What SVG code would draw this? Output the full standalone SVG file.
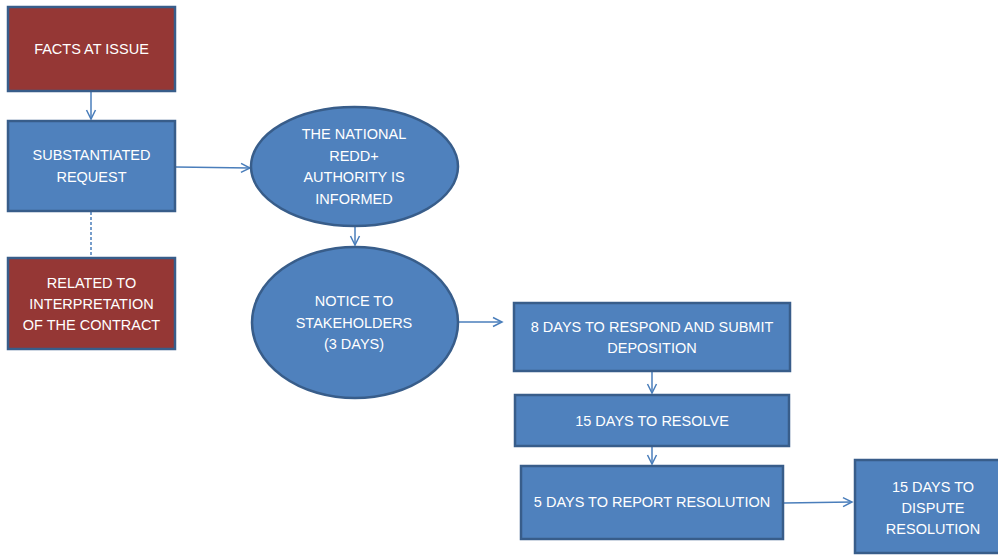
<svg xmlns="http://www.w3.org/2000/svg" width="998" height="555" viewBox="0 0 998 555">
<defs>
<marker id="arr" markerWidth="12" markerHeight="12" refX="10" refY="5" orient="auto" markerUnits="userSpaceOnUse" viewBox="0 0 12 10">
<path d="M1,0.5 L10,5 L1,9.5" fill="none" stroke="#4A7EBB" stroke-width="1.5"/>
</marker>
</defs>
<style>
.blue{fill:#4F81BD;stroke:#385D8A;stroke-width:2.5}
.red{fill:#953735;stroke:#385D8A;stroke-width:2.5}
.t{font-family:"Liberation Sans",Arial,sans-serif;font-size:14.5px;fill:#FFFFFF;text-anchor:middle}
.c{fill:none;stroke:#4A7EBB;stroke-width:1.5}
</style>
<rect width="998" height="555" fill="#FFFFFF"/>
<g id="connectors">
<line class="c" x1="91" y1="91" x2="91" y2="119" marker-end="url(#arr)"/>
<line class="c" x1="91" y1="212" x2="91" y2="257" stroke-dasharray="3,2"/>
<line class="c" x1="176" y1="167" x2="250" y2="168" marker-end="url(#arr)"/>
<line class="c" x1="355" y1="226" x2="355" y2="245" marker-end="url(#arr)"/>
<line class="c" x1="459" y1="322" x2="502" y2="322" marker-end="url(#arr)"/>
<line class="c" x1="652" y1="371" x2="652" y2="393" marker-end="url(#arr)"/>
<line class="c" x1="652" y1="446" x2="652" y2="464" marker-end="url(#arr)"/>
<line class="c" x1="784" y1="503" x2="852" y2="502" marker-end="url(#arr)"/>
</g>
<g id="facts">
<rect class="red" x="8" y="7" width="167" height="84"/>
<text class="t" x="91.5" y="54">FACTS AT ISSUE</text>
</g>
<g id="substantiated">
<rect class="blue" x="8" y="121" width="167" height="90"/>
<text class="t" x="91.5" y="160">SUBSTANTIATED</text>
<text class="t" x="91.5" y="182">REQUEST</text>
</g>
<g id="related">
<rect class="red" x="8" y="258" width="167" height="91"/>
<text class="t" x="91.5" y="288">RELATED TO</text>
<text class="t" x="91.5" y="309">INTERPRETATION</text>
<text class="t" x="91.5" y="330">OF THE CONTRACT</text>
</g>
<g id="authority">
<ellipse class="blue" cx="354.5" cy="166.5" rx="103.5" ry="59.5"/>
<text class="t" x="354" y="138.5">THE NATIONAL</text>
<text class="t" x="354" y="160.5">REDD+</text>
<text class="t" x="354" y="182">AUTHORITY IS</text>
<text class="t" x="354" y="204">INFORMED</text>
</g>
<g id="notice">
<ellipse class="blue" cx="355" cy="322.5" rx="103" ry="75.5"/>
<text class="t" x="354" y="306">NOTICE TO</text>
<text class="t" x="354" y="327.5">STAKEHOLDERS</text>
<text class="t" x="354" y="349">(3 DAYS)</text>
</g>
<g id="respond">
<rect class="blue" x="514" y="303" width="276" height="68"/>
<text class="t" x="652" y="331.5">8 DAYS TO RESPOND AND SUBMIT</text>
<text class="t" x="652" y="353">DEPOSITION</text>
</g>
<g id="resolve">
<rect class="blue" x="515" y="395" width="274" height="51"/>
<text class="t" x="652" y="426">15 DAYS TO RESOLVE</text>
</g>
<g id="report">
<rect class="blue" x="521" y="466" width="262" height="73"/>
<text class="t" x="652" y="507">5 DAYS TO REPORT RESOLUTION</text>
</g>
<g id="dispute">
<rect class="blue" x="855" y="460" width="156" height="93"/>
<text class="t" x="933" y="491.5">15 DAYS TO</text>
<text class="t" x="933" y="513">DISPUTE</text>
<text class="t" x="933" y="534">RESOLUTION</text>
</g>
</svg>
